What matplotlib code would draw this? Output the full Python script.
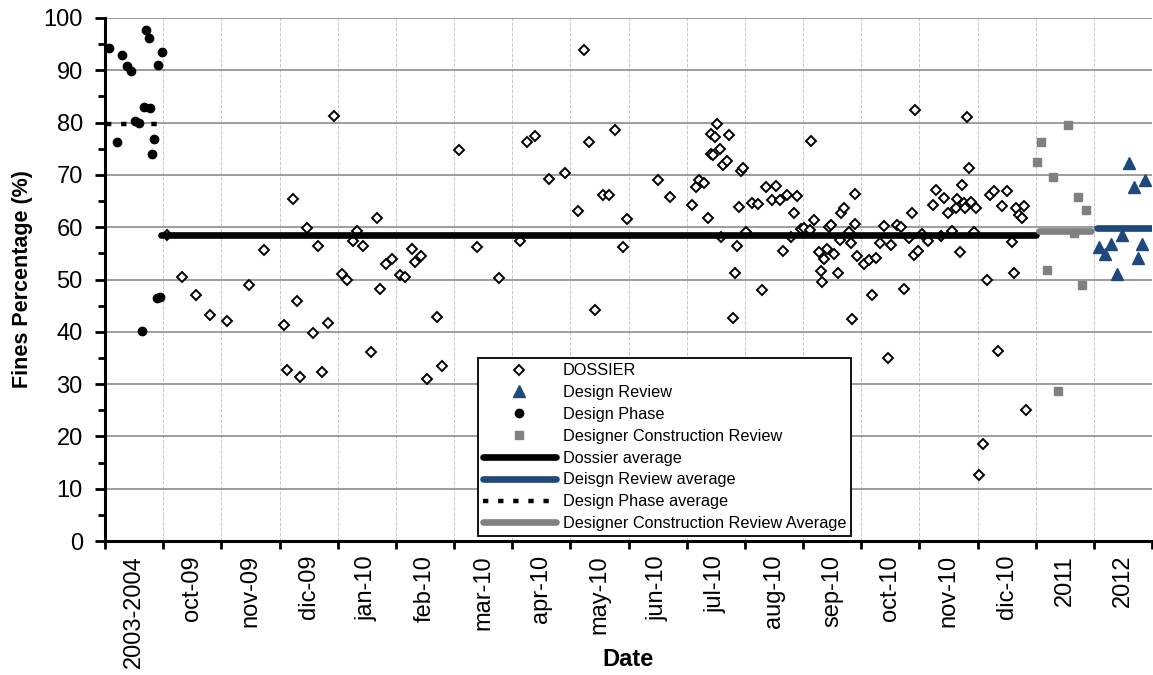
import numpy as np
import matplotlib.pyplot as plt

plt.rcParams['font.family'] = ['Liberation Sans', 'DejaVu Sans']

# categorias del eje x (cada una ocupa una unidad)
categories = ['2003-2004', 'oct-09', 'nov-09', 'dic-09', 'jan-10', 'feb-10', 'mar-10',
              'apr-10', 'may-10', 'jun-10', 'jul-10', 'aug-10', 'sep-10', 'oct-10',
              'nov-10', 'dic-10', '2011', '2012']

# DOSSIER (posicion en unidades de categoria, % finos)
dossier_x = [1.06, 1.33, 1.57, 1.80, 2.10, 2.47, 2.73, 3.07, 3.13, 3.23, 3.30, 3.36, 3.47, 3.57,
             3.66, 3.73, 3.83, 3.94, 4.07, 4.16, 4.27, 4.33, 4.43, 4.57, 4.67, 4.73, 4.83, 4.93,
             5.07, 5.16, 5.27, 5.33, 5.43, 5.53, 5.71, 5.80, 6.09, 6.40, 6.77, 7.13, 7.26, 7.39,
             7.63, 7.90, 8.13, 8.23, 8.32, 8.43, 8.56, 8.66, 8.77, 8.90, 8.97, 9.50, 9.71,
             10.09, 10.16, 10.22, 10.29, 10.36, 10.41, 10.45, 10.41, 10.48, 10.53, 10.57, 10.59,
             10.62, 10.70, 10.72, 10.79, 10.83, 10.86, 10.90, 10.93, 10.97, 11.02, 11.13, 11.23,
             11.29, 11.36, 11.46, 11.53, 11.60, 11.66, 11.72, 11.80, 11.85, 11.89, 11.96, 12.01,
             12.12, 12.13, 12.19, 12.27, 12.31, 12.33, 12.36, 12.41, 12.44, 12.48, 12.53, 12.60,
             12.63, 12.66, 12.70, 12.79, 12.83, 12.85, 12.89, 12.89, 12.92,
             13.05, 13.13, 13.19, 13.26, 13.33, 13.39, 13.46, 13.52, 13.62, 13.69, 13.73, 13.83,
             13.87, 13.90, 13.93, 13.97, 14.04, 14.15, 14.23, 14.29, 14.37, 14.43, 14.49, 14.56,
             14.63, 14.65, 14.70, 14.73, 14.77, 14.79, 14.82, 14.86, 14.89, 14.94, 14.97, 15.02,
             15.09, 15.16, 15.21, 15.29, 15.36, 15.42, 15.50, 15.59, 15.62, 15.66, 15.72, 15.76,
             15.80, 15.83]
dossier_y = [58.5, 50.4, 47.0, 43.2, 42.1, 48.9, 55.6, 41.3, 32.7, 65.3, 45.8, 31.4, 59.8, 39.8,
             56.4, 32.3, 41.7, 81.3, 51.0, 49.9, 57.4, 59.3, 56.5, 36.1, 61.7, 48.1, 53.0, 53.9,
             50.9, 50.4, 55.8, 53.3, 54.4, 31.0, 42.8, 33.5, 74.8, 56.2, 50.2, 57.3, 76.3, 77.4,
             69.2, 70.3, 63.1, 93.9, 76.2, 44.2, 66.2, 66.2, 78.5, 56.3, 61.6, 69.0, 65.7,
             64.2, 67.7, 69.0, 68.4, 61.7, 74.0, 73.8, 77.9, 77.3, 79.7, 74.9, 58.2,
             71.8, 72.7, 77.7, 42.6, 51.2, 56.5, 63.9, 70.7, 71.3, 59.0, 64.6, 64.4,
             47.9, 67.6, 65.2, 67.9, 65.2, 55.4, 66.2, 58.1, 62.8, 66.0, 59.6, 59.8,
             59.5, 76.4, 61.4, 55.3, 51.7, 49.6, 53.9, 55.8, 60.0, 60.4, 54.9, 51.2,
             57.6, 62.7, 63.6, 59.0, 57.0, 42.4, 66.3, 60.6, 54.4,
             53.0, 53.7, 47.1, 54.2, 57.0, 60.2, 34.9, 56.6, 60.5, 60.1, 48.1, 57.9,
             62.8, 54.6, 82.4, 55.4, 58.7, 57.4, 64.2, 67.1, 58.3, 65.5, 62.8, 59.3,
             63.6, 65.4, 55.3, 68.1, 64.6, 63.6, 81.0, 71.3, 64.9, 59.1, 63.7, 12.6,
             18.5, 50.0, 66.2, 67.0, 36.3, 64.1, 67.0, 57.1, 51.3, 63.7, 62.3, 61.7,
             64.1, 25.0]

# Design Review
review_x = [17.60, 17.88, 17.69, 17.49, 17.83, 17.29, 17.09, 17.20, 17.76, 17.40]
review_y = [72.2, 69.0, 67.7, 58.5, 56.8, 56.8, 56.3, 54.9, 54.1, 51.1]

# Design Phase
phase_x = [0.07, 0.21, 0.30, 0.37, 0.45, 0.51, 0.59, 0.67, 0.70, 0.75, 0.78, 0.81, 0.85,
           0.91, 0.98, 0.64, 0.89, 0.94]
phase_y = [94.2, 76.3, 92.9, 90.8, 89.9, 80.4, 79.9, 83.0, 97.7, 96.2, 82.7, 74.0, 76.9,
           91.0, 93.5, 40.1, 46.4, 46.6]

# Designer Construction Review
constr_x = [16.56, 16.09, 16.03, 16.29, 16.72, 16.86, 16.66, 16.20, 16.79, 16.39]
constr_y = [79.6, 76.3, 72.5, 69.6, 65.8, 63.2, 58.9, 51.8, 48.9, 28.6]

# promedios (valor y tramo en x)
dossier_avg, dossier_avg_span = 58.6, [0.97, 16.0]
review_avg, review_avg_span = 59.9, [17.05, 18.0]
phase_avg, phase_avg_span = 79.7, [0.02, 0.92]
constr_avg, constr_avg_span = 59.2, [16.05, 16.95]

BLUE = '#1F497D'
GRAY = '#808080'

fig = plt.figure(figsize=(11.53, 6.75), dpi=100)
ax = fig.add_axes([105 / 1153, 134 / 675, 1047 / 1153, 523 / 675])

ax.plot(dossier_x, dossier_y, ls='none', marker='D', ms=5.2, mfc='white', mec='black',
        mew=1.4, label='DOSSIER', zorder=3)
ax.plot(review_x, review_y, ls='none', marker='^', ms=8.5, color=BLUE,
        label='Design Review', zorder=3)
ax.plot(phase_x, phase_y, ls='none', marker='o', ms=6, color='black',
        label='Design Phase', zorder=3)
ax.plot(constr_x, constr_y, ls='none', marker='s', ms=6, color=GRAY,
        label='Designer Construction Review', zorder=3)

ax.plot(dossier_avg_span, [dossier_avg] * 2, color='black', lw=4.8, solid_capstyle='round',
        label='Dossier average', zorder=4)
ax.plot(review_avg_span, [review_avg] * 2, color=BLUE, lw=4.8, solid_capstyle='round',
        label='Deisgn Review average', zorder=4)
ax.plot(phase_avg_span, [phase_avg] * 2, color='black', lw=3.2, ls=(0, (1.2, 2.2)),
        dash_capstyle='butt', label='Design Phase average', zorder=4)
ax.plot(constr_avg_span, [constr_avg] * 2, color=GRAY, lw=4.8, solid_capstyle='round',
        label='Designer Construction Review Average', zorder=4)

ax.set_xlim(0, 18)
ax.set_ylim(0, 100)
ax.set_xticks(np.arange(len(categories)) + 0.5)
ax.set_xticklabels(categories, rotation=90)
ax.set_xticks(np.arange(0, len(categories) + 1), minor=True)
ax.tick_params(axis='x', which='major', length=0, pad=10, labelsize=17)
ax.tick_params(axis='x', which='minor', length=6, width=2, direction='out')
ax.set_yticks(np.arange(0, 101, 10))
ax.set_yticks(np.arange(0, 101, 5), minor=True)
ax.tick_params(axis='y', which='major', length=7, width=2, labelsize=17, pad=9)
ax.tick_params(axis='y', which='minor', length=5, width=2)

ax.yaxis.grid(True, which='major', color='#8c8c8c', lw=1.2)
ax.xaxis.grid(True, which='minor', color='#c8c8c8', ls='--', lw=0.7)
ax.set_axisbelow(True)

for s in ['top', 'right']:
    ax.spines[s].set_visible(False)
for s in ['left', 'bottom']:
    ax.spines[s].set_linewidth(2.2)

ax.set_ylabel('Fines Percentage (%)', fontsize=15.5, fontweight='bold')
ax.yaxis.set_label_coords(-0.069, 0.5)
ax.set_xlabel('Date', fontsize=17, fontweight='bold')
ax.xaxis.set_label_coords(0.5, -0.205)

leg = ax.legend(loc='lower left', bbox_to_anchor=(0.356, 0.0096), borderaxespad=0,
                fontsize=11.7, numpoints=1, handlelength=4.5, handletextpad=0.45,
                labelspacing=0.42, fancybox=False, framealpha=1, edgecolor='black',
                borderpad=0.3)
leg.get_frame().set_linewidth(1.3)

fig.savefig('out.png', dpi=100)
